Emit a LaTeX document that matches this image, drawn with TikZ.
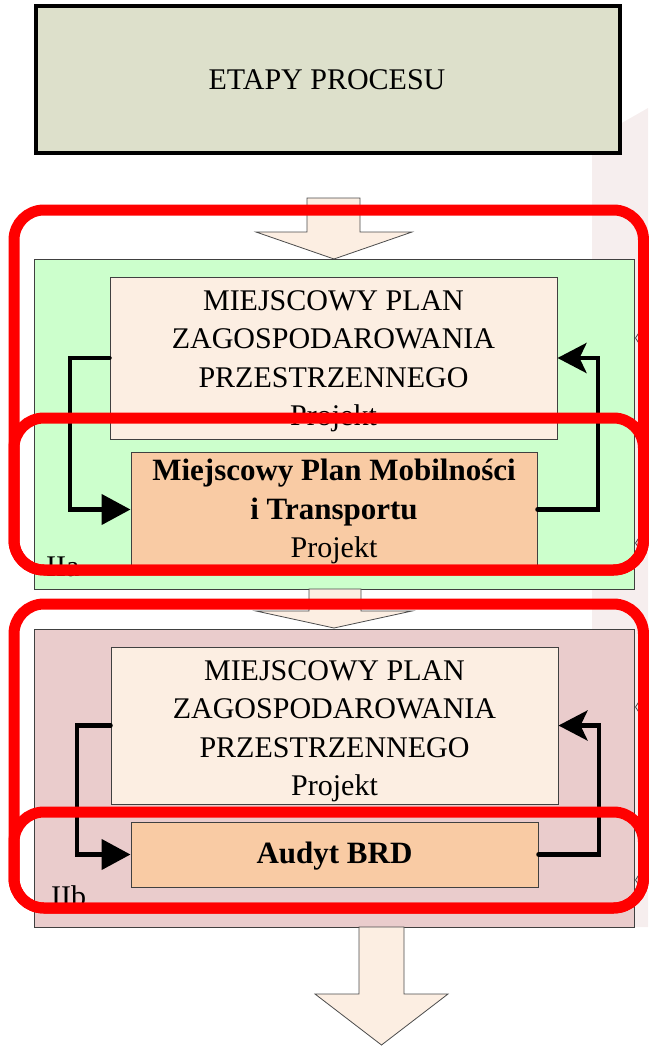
\documentclass[tikz,border=0pt]{standalone}
\usepackage{fontspec}
\setmainfont{Liberation Serif}
\usetikzlibrary{arrows.meta}
\definecolor{topfill}{HTML}{DDE0CB}
\definecolor{greenfill}{HTML}{CCFFCC}
\definecolor{pinkfill}{HTML}{EACCCC}
\definecolor{peach}{HTML}{FCEEE2}
\definecolor{orangebox}{HTML}{F9CBA4}
\definecolor{backpink}{HTML}{F6EEEE}
\definecolor{framered}{HTML}{FF0000}
\tikzset{
  box/.style={draw=black!75, line width=1pt, inner sep=0pt},
  txt/.style={inner sep=0pt, font=\fontsize{30}{38.5}\selectfont},
  btxt/.style={inner sep=0pt, font=\fontsize{31}{40}\selectfont\bfseries},
  blockarrow/.style={draw=black!70, line width=0.8pt, fill=peach, line join=miter},
  conn/.style={draw=black, line width=4.5pt, line cap=round, line join=miter},
  redframe/.style={draw=framered, line width=11pt, rounded corners=30pt},
  chev/.style={draw=black!70, line width=0.8pt},
  lefttip/.style={-{Triangle[length=29pt,width=30pt]}},
  righttip/.style={-{Stealth[length=29pt,width=30pt,inset=7pt]}}
}
\begin{document}
\begin{tikzpicture}[x=1pt,y=-1pt]
\useasboundingbox (0,0) rectangle (648,1046);

% faint background shape on the right
\fill[backpink] (592,140) -- (648,108) -- (648,927) -- (592,927) -- cycle;

% title box
\node[draw=black, line width=4pt, fill=topfill, minimum width=584pt, minimum height=147pt, inner sep=0pt] (title) at (328,79.5) {};
\node[txt, anchor=base] (titletext) at (327,90) {ETAPY PROCESU};

% arrow 1
\draw[blockarrow] (307,198) -- (360,198) -- (360,232) -- (412,232) -- (334,259) -- (256,232) -- (307,232) -- cycle;

% ---------- stage IIa ----------
\node[box, fill=greenfill, minimum width=600pt, minimum height=330pt] (stageA) at (334,424) {};
\node[box, fill=peach, minimum width=447pt, minimum height=162pt] (mpzpA) at (333.5,358) {};
\node[txt, anchor=base] (a1) at (333.5,310) {MIEJSCOWY PLAN};
\node[txt, anchor=base] (a2) at (333.5,348.5) {ZAGOSPODAROWANIA};
\node[txt, anchor=base] (a3) at (333.5,387) {PRZESTRZENNEGO};
\node[txt, anchor=base] (a4) at (333.5,425.5) {Projekt};
\node[box, fill=orangebox, minimum width=406pt, minimum height=115pt] (mpmt) at (334,509.5) {};
\node[btxt, anchor=base] (b1) at (334,480) {Miejscowy Plan Mobilności};
\node[btxt, anchor=base] (b2) at (334,519) {i Transportu};
\node[txt, anchor=base] (b3) at (334,557) {Projekt};
\node[txt, anchor=base west] (labA) at (46,576) {IIa};

\coordinate (lA) at (70,358);
\coordinate (rA) at (598,358);
\draw[conn, lefttip] (mpzpA.west) -- (lA) |- (mpmt.west);
\draw[conn, righttip] (mpmt.east) -| (rA) -- (mpzpA.east);

% arrow 2
\draw[blockarrow] (309,589) -- (361,589) -- (361,611) -- (412,611) -- (334,628) -- (256,611) -- (309,611) -- cycle;

% ---------- stage IIb ----------
\node[box, fill=pinkfill, minimum width=600pt, minimum height=298pt] (stageB) at (334,778) {};
\node[box, fill=peach, minimum width=447pt, minimum height=157pt] (mpzpB) at (334.5,725.5) {};
\node[txt, anchor=base] (c1) at (334.5,680) {MIEJSCOWY PLAN};
\node[txt, anchor=base] (c2) at (334.5,718.5) {ZAGOSPODAROWANIA};
\node[txt, anchor=base] (c3) at (334.5,757) {PRZESTRZENNEGO};
\node[txt, anchor=base] (c4) at (334.5,795.5) {Projekt};
\node[box, fill=orangebox, minimum width=407pt, minimum height=65pt] (audyt) at (334.5,854.5) {};
\node[btxt, anchor=base] (d1) at (334.5,863) {Audyt BRD};
\node[txt, anchor=base west] (labB) at (51,906) {IIb};

\coordinate (lB) at (77,725.5);
\coordinate (rB) at (599,725.5);
\draw[conn, lefttip] (mpzpB.west) -- (lB) |- (audyt.west);
\draw[conn, righttip] (audyt.east) -| (rB) -- (mpzpB.east);

% small chevrons at the right edge
\draw[chev] (640,331) -- (635.5,338) -- (640,345);
\draw[chev] (640,536) -- (635.5,543) -- (640,550);
\draw[chev] (640,700) -- (635.5,707) -- (640,714);
\draw[chev] (640,873) -- (635.5,880) -- (640,887);

% arrow 3
\draw[blockarrow] (359,927) -- (404,927) -- (404,994) -- (448,994) -- (381.5,1045) -- (315,994) -- (359,994) -- cycle;

% red frames
\draw[redframe] (14,210) rectangle (643.5,570);
\draw[redframe] (14,418) rectangle (643.5,570);
\draw[redframe] (14,604) rectangle (643.5,908);
\draw[redframe] (14,812) rectangle (643.5,908);
\end{tikzpicture}
\end{document}
